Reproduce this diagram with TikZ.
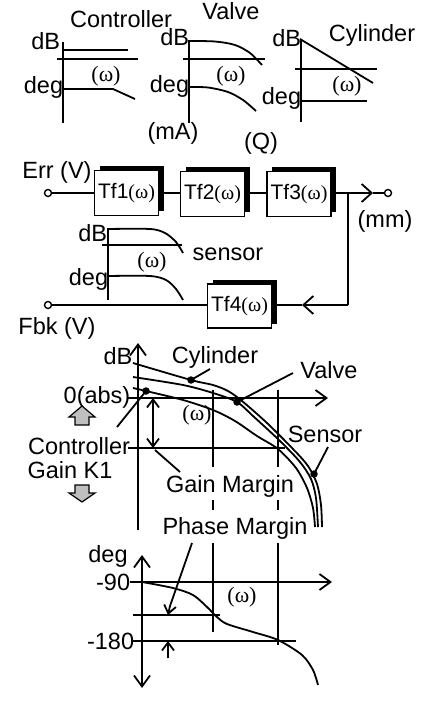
\documentclass[tikz,border=0pt]{standalone}
\usepackage{fontspec}
\setmainfont{Liberation Sans}
\newfontfamily\serifw{Liberation Serif}
\usetikzlibrary{arrows.meta,shadows}
\newcommand\myomega{{\fontsize{20}{22}\selectfont\serifw(ω)}}
\begin{document}
\begin{tikzpicture}[x=1pt,y=-1pt,line width=1.8pt,
  every node/.style={inner sep=0pt,font=\fontsize{23.5}{26}\selectfont},
  omlbl/.style={font=\fontsize{22}{24}\selectfont\serifw},
  blk/.style={draw,fill=white,minimum width=64pt,minimum height=45pt,inner sep=0pt,
    font=\fontsize{21}{24}\selectfont,
    drop shadow={shadow xshift=5pt,shadow yshift=4pt,fill=black,opacity=1}},
  term/.style={circle,draw,fill=white,minimum size=7pt,inner sep=0pt,line width=1.4pt},
  bdot/.style={circle,fill=black,minimum size=7.5pt,inner sep=0pt},
  tipL/.tip={Straight Barb[length=10pt,width=18pt]},
  tipA/.tip={Straight Barb[length=11pt,width=16pt]},
  tipS/.tip={Straight Barb[length=8pt,width=12pt]},
  garrow/.style={draw,fill=black!25,line width=1.2pt}]
\useasboundingbox (0,0) rectangle (429,703);

% ---------- top plots ----------
\node (tCtrl) [anchor=base] at (121,28) {Controller};
\node (tValve) [anchor=base] at (231,20) {Valve};
\node (tCyl) [anchor=base] at (372,42) {Cylinder};

% controller
\draw (63,42) -- (63,123);
\draw (63,50) -- (128,50);
\draw (57,59) -- (138,59);
\draw (63,89) -- (113,89) -- (135,99);
\node (cdB) [anchor=base east] at (61,50) {dB};
\node (cdeg) [anchor=base east] at (64,94) {deg};
\node[omlbl] (com) at (106,76) {(ω)};

% valve
\draw (189,40) -- (189,123);
\draw plot[smooth] coordinates {(189,41) (215,41.5) (235,45) (250,53) (262,65)};
\draw (183,59) -- (265,59);
\draw plot[smooth] coordinates {(189,87) (208,87.5) (228,92) (243,100) (256,111)};
\node (vdB) [anchor=base east] at (190,46) {dB};
\node (vdeg) [anchor=base east] at (190,93) {deg};
\node[omlbl] (vom) at (231,76) {(ω)};

% cylinder
\draw (301,40) -- (301,122);
\draw (300,39) -- (373,83);
\draw (295,69) -- (377,69);
\draw (301,101) -- (367,101);
\node (ydB) [anchor=base east] at (302,47) {dB};
\node (ydeg) [anchor=base east] at (302,105) {deg};
\node[omlbl] (yom) at (347,86) {(ω)};

\node (mA) at (173,133) {(mA)};
\node (Q) at (261,143) {(Q)};

% ---------- block diagram ----------
\node (errl) at (57,172) {Err (V)};
\node (mm) at (385,221) {(mm)};
\node (fbkl) at (57,328) {Fbk (V)};
\node[term] (err) at (48,193) {};
\node[term] (out) at (388,193) {};
\node[term] (fbk) at (48,305) {};
\node[blk] (tf1) at (126.5,193) {Tf1\myomega};
\node[blk] (tf2) at (212.5,194) {Tf2\myomega};
\node[blk] (tf3) at (299,194) {Tf3\myomega};
\node[blk,minimum height=44pt] (tf4) at (239.5,306) {Tf4\myomega};
\coordinate (jn) at (348,193);
\coordinate (jd) at (348,305);
\coordinate (otip) at (373,193);
\coordinate (ftip) at (302,305);
\draw (err) -- (err -| tf1.west);
\draw (tf1.east |- 0,193) -- (tf2.west |- 0,193);
\draw (tf2.east |- 0,193) -- (tf3.west |- 0,193);
\draw (tf3.east |- jn) -- (jn);
\draw[-tipL] (jn) -- (otip);
\draw (otip) -- (out);
\draw (jn) -- (jd);
\draw[-tipL] (jd) -- (ftip);
\draw (ftip) -- (ftip -| tf4.east);
\draw (tf4.west |- fbk) -- (fbk);

% sensor plot
\draw (108,228) -- (108,300);
\draw plot[smooth] coordinates {(108,229) (150,229) (165,233) (176,242) (183,253)};
\draw (102,245) -- (182,245);
\draw plot[smooth] coordinates {(108,276) (150,276) (166,280) (176,289) (183,300)};
\node (sdB) [anchor=base east] at (108,241) {dB};
\node (sdeg) [anchor=base east] at (109,285) {deg};
\node[omlbl] (som) at (152,262) {(ω)};
\node (sens) at (228,254) {sensor};

% ---------- gain plot ----------
\draw[-tipA] (138,530) -- (138,343);
\draw[-tipA] (128,398) -- (328,398);
\foreach \xx in {213,278} {
  \draw (\xx,390) -- (\xx,467);
  \draw (\xx,500) -- (\xx,510);
}
\draw (213,543) -- (213,632);
\draw (278,543) -- (278,645);
\draw (128,448) -- (285,448);
\draw[tipS-tipS] (153,398) -- (153,448);
\draw (155,450) -- (180,472);

\draw plot[smooth] coordinates {(133,363) (191,380) (213,385) (228,391) (242,401) (267,423) (293,449) (308,466) (317,484) (321,505) (322,527)};
\draw plot[smooth] coordinates {(133,377) (183,385) (213,393) (237,402) (253,416) (280,441) (300,462) (311,479) (316,498) (318,527)};
\draw plot[smooth] coordinates {(133,388) (146,391) (183,400) (213,410) (235,421) (257,436) (278,449) (296,468) (307,488) (313,508) (315,527)};

\node[bdot] (dcyl) at (191,380) {};
\node[bdot] (dval) at (237,402) {};
\node[bdot] (dsen) at (314,474) {};
\node[bdot] (dctl) at (146,391) {};
\coordinate (lcylend) at (210,369);
\coordinate (lvalend) at (293,373);
\coordinate (lsenend) at (328,447);
\coordinate (lctlend) at (117,427);
\draw (dcyl.center) -- (lcylend);
\draw (dval.center) -- (lvalend);
\draw (dsen.center) -- (lsenend);
\draw (dctl.center) -- (lctlend);

\node (bdB) at (118,356) {dB};
\node (abs) at (97,397) {0(abs)};
\node[omlbl] (bom) at (197,415) {(ω)};
\node (bctrl) at (79,446) {Controller};
\node (gk) at (70,470) {Gain K1};
\node (gm) at (230,486) {Gain Margin};
\node (pm) at (235,528) {Phase Margin};
\node (lcyl) at (215,357) {Cylinder};
\node (lval) at (329,370) {Valve};
\node (lsen) at (325,434) {Sensor};

\path[garrow] (82,406) -- (95,417) -- (89,417) -- (89,425) -- (75,425) -- (75,417) -- (69,417) -- cycle;
\path[garrow] (75,485) -- (89,485) -- (89,493) -- (95,493) -- (82,502) -- (69,493) -- (75,493) -- cycle;

% ---------- phase plot ----------
\draw[tipA-tipA] (142,688) -- (142,555);
\draw[-tipA] (130,582) -- (332,582);
\draw (133,615) -- (220,615);
\draw (133,641) -- (296,641);
\draw plot[smooth] coordinates {(142,582) (173,588) (193,595) (207,607) (217,617) (227,624) (253,632) (278,640) (302,655) (313,670) (318,685)};
\draw[-tipS] (192,543) -- (170,606) -- (168,615);
\draw[-tipS] (168,658) -- (168,641);
\node (pdeg) at (108,556) {deg};
\node (p90) [anchor=east] at (131,582) {-90};
\node (p180) [anchor=east] at (135,641) {-180};
\node[omlbl] (pom) at (242,597) {(ω)};
\end{tikzpicture}
\end{document}
